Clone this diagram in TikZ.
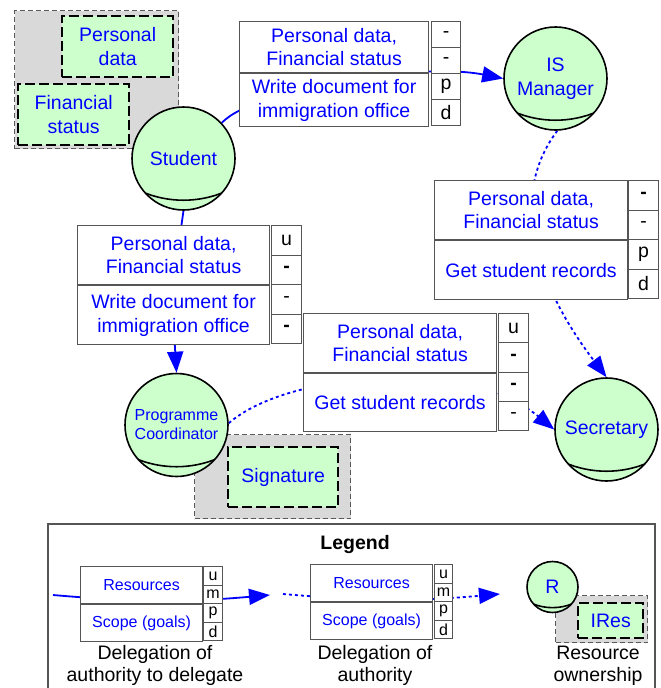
\documentclass[tikz,border=0pt]{standalone}
\usepackage{fontspec}
\setmainfont{Liberation Sans}
\usepackage{tikz}
\usetikzlibrary{arrows.meta,positioning,backgrounds}
\definecolor{actorgreen}{RGB}{204,255,204}
\definecolor{resgray}{RGB}{217,217,217}
\definecolor{boxgray}{RGB}{85,85,85}
\newcommand{\boxfont}{\fontsize{19.5}{23.5}\selectfont}
\newcommand{\pcfont}{\fontsize{16}{19}\selectfont}

\begin{document}
\begin{tikzpicture}[x=1pt,y=1pt,
  actor/.style={circle,draw,line width=1.6pt,fill=actorgreen,minimum size=2*#1,inner sep=0pt,text=blue,align=center,font=\boxfont,
    path picture={\draw[line width=1.6pt] ([yshift=1.24*#1]path picture bounding box.center) circle (2.05*#1);}},
  actor/.default=51.5pt,
  resarea/.style={draw=black!65,line width=1.2pt,dash pattern=on 5pt off 3pt,fill=resgray,anchor=north west,inner sep=0pt},
  resitem/.style={draw,line width=2.4pt,dash pattern=on 10pt off 4pt,fill=actorgreen,anchor=north west,inner sep=0pt,text=blue,align=center,font=\boxfont},
  dpart/.style={draw=boxgray,line width=1.2pt,fill=white,inner sep=0pt,text=blue,align=center,font=\boxfont},
  dcell/.style={draw=boxgray,line width=1.2pt,fill=white,inner sep=0pt,anchor=north west,font=\boxfont},
  deleg/.style={blue,line width=1.8pt,-{Triangle[length=21pt,width=16pt]}},
  dots/.style={dash pattern=on 3pt off 3pt},
  lbl/.style={align=center,font=\fontsize{19.5}{22}\selectfont}]
  \useasboundingbox (0,0) rectangle (661,-688);

  \node[resarea,minimum width=164pt,minimum height=138pt] (stures) at (14,-10) {};
  \node[resitem,minimum width=111pt,minimum height=61pt] (pdata) at (61,-15) {Personal\\data};
  \node[resitem,minimum width=111pt,minimum height=61pt] (fstatus) at (17,-83) {Financial\\status};
  \node[resarea,minimum width=156pt,minimum height=84pt] (pcres) at (194,-434) {};
  \node[resitem,minimum width=110pt,minimum height=60pt] (signature) at (227,-446) {Signature};

  \node[actor] (student) at (183.5,-158.5) {Student};
  \node[actor] (ism) at (555.5,-78.5) {IS\\Manager};
  \node[actor,font=\pcfont] (pc) at (176.5,-425) {Programme\\Coordinator};
  \node[actor] (sec) at (606.5,-429.5) {Secretary};

  \node[dpart,minimum width=189pt,minimum height=51pt,anchor=north west] (d1res) at (239,-21) {Personal data,\\Financial status};
  \node[dpart,minimum width=189pt,minimum height=53pt,below=0pt of d1res] (d1goal) {Write document for\\immigration office};
  \foreach \t [count=\i] in {-,-,p,d}
    \node[dcell,minimum width=29pt,minimum height=26pt] (d1c\i) at (431,{-21-26*(\i-1)}) {\t};

  \node[dpart,minimum width=192pt,minimum height=59pt,anchor=north west] (d2res) at (77,-225) {Personal data,\\Financial status};
  \node[dpart,minimum width=192pt,minimum height=59pt,below=0pt of d2res] (d2goal) {Write document for\\immigration office};
  \foreach \t [count=\i] in {u,{\textbf{-}},-,{\textbf{-}}}
    \node[dcell,minimum width=30pt,minimum height=29.5pt] (d2c\i) at (271,{-225-29.5*(\i-1)}) {\t};

  \node[dpart,minimum width=193pt,minimum height=59pt,anchor=north west] (d3res) at (303,-313) {Personal data,\\Financial status};
  \node[dpart,minimum width=193pt,minimum height=58pt,below=0pt of d3res] (d3goal) {Get student records};
  \foreach \t [count=\i] in {u,{\textbf{-}},{\textbf{-}},-}
    \node[dcell,minimum width=30pt,minimum height=29.25pt] (d3c\i) at (498,{-313-29.25*(\i-1)}) {\t};

  \node[dpart,minimum width=193pt,minimum height=59pt,anchor=north west] (d4res) at (434,-180) {Personal data,\\Financial status};
  \node[dpart,minimum width=193pt,minimum height=59pt,below=0pt of d4res] (d4goal) {Get student records};
  \foreach \t [count=\i] in {{\textbf{-}},-,p,d}
    \node[dcell,minimum width=30pt,minimum height=29.5pt] (d4c\i) at (628,{-180-29.5*(\i-1)}) {\t};

  \draw[boxgray,line width=1.2pt] (48,-524) rectangle (655,-700);
  \node[font=\bfseries\boxfont] (legtitle) at (355,-544) {Legend};

  \node[dpart,font=\pcfont,minimum width=122pt,minimum height=37pt,anchor=north west] (lres1) at (80,-566) {Resources};
  \node[dpart,font=\pcfont,minimum width=122pt,minimum height=37pt,below=0pt of lres1] (lgoal1) {Scope (goals)};
  \foreach \t [count=\i] in {u,m,p,d}
    \node[dcell,font=\pcfont,minimum width=19pt,minimum height=18.5pt] (lca\i) at (203,{-566-18.5*(\i-1)}) {\t};

  \node[dpart,font=\pcfont,minimum width=122pt,minimum height=37pt,anchor=north west] (lres2) at (310,-564) {Resources};
  \node[dpart,font=\pcfont,minimum width=122pt,minimum height=37pt,below=0pt of lres2] (lgoal2) {Scope (goals)};
  \foreach \t [count=\i] in {u,m,p,d}
    \node[dcell,font=\pcfont,minimum width=18pt,minimum height=18.5pt] (lcb\i) at (434,{-564-18.5*(\i-1)}) {\t};

  \node[resarea,minimum width=92pt,minimum height=47pt] (lresarea) at (555,-595) {};
  \node[resitem,minimum width=65pt,minimum height=35pt] (lires) at (577,-602) {IRes};
  \node[actor=25.5pt] (lactor) at (552.5,-587) {R};

  \node[lbl] (lab1) at (155,-665) {Delegation of\\authority to delegate};
  \node[lbl] (lab2) at (375,-665) {Delegation of\\authority};
  \node[lbl] (lab3) at (598,-666) {Resource\\ownership};

  \coordinate (la) at (53,-595);
  \coordinate (lb) at (270,-595);
  \coordinate (lc) at (283,-594);
  \coordinate (ld) at (500,-594);

  \begin{scope}[on background layer]
    \draw[deleg] (student.43) .. controls (255,-88) and (420,-62) .. (ism.west);
    \draw[deleg] (student.south) to[bend right=6] (pc.north);
    \draw[deleg,dots] (ism.-88) .. controls (505,-200) and (540,-290) .. (sec.north);
    \draw[deleg,dots] (pc.2) .. controls (290,-370) and (470,-360) .. (sec.west);
    \draw[deleg] (la) to[bend right=5] (lb);
    \draw[deleg,dots] (lc) to[bend right=5] (ld);
  \end{scope}
\end{tikzpicture}
\end{document}
